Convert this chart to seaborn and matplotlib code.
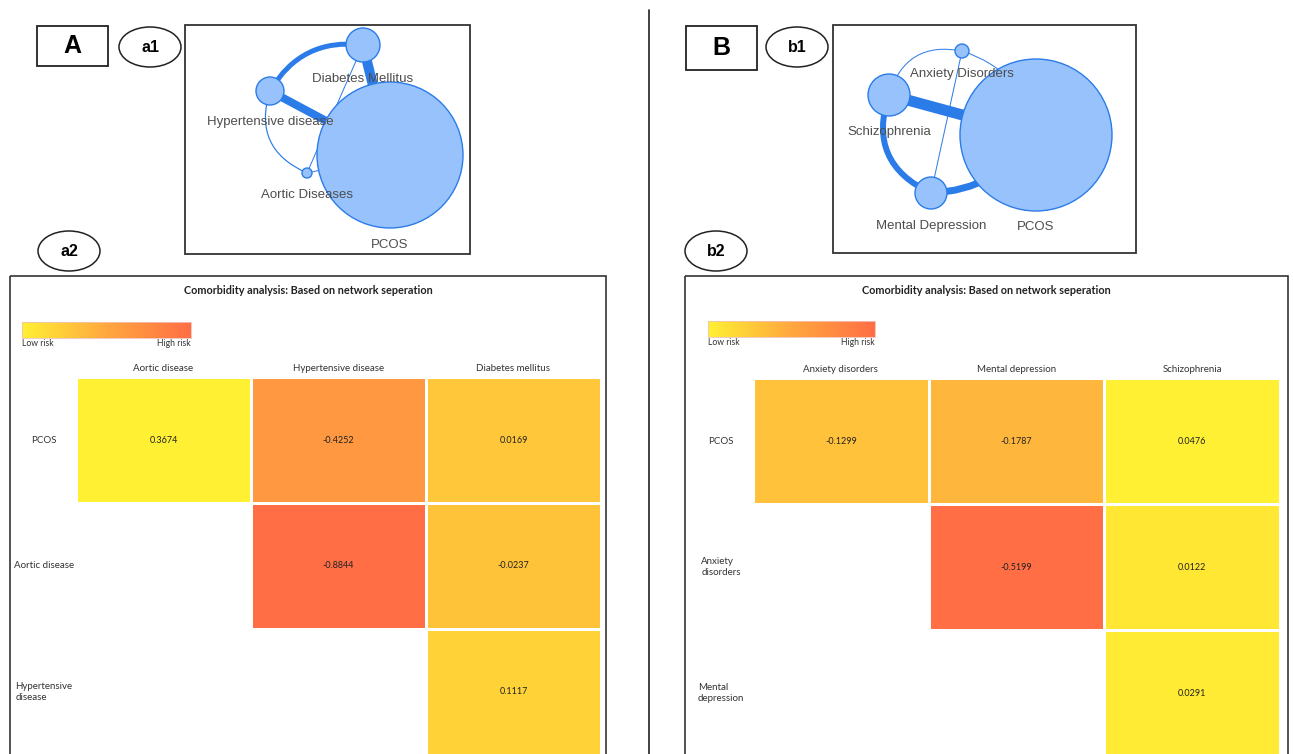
import numpy as np
import pandas as pd
import matplotlib
matplotlib.use("Agg")
import matplotlib.pyplot as plt
import matplotlib.patches as mpatches
from matplotlib.colors import LinearSegmentedColormap
import seaborn as sns

sns.set_theme(style="white")
plt.rcParams['font.family'] = ['Liberation Sans', 'DejaVu Sans']

# --------------------------- data ---------------------------
# network a1 (PCOS vs cardiovascular / metabolic)
a1_nodes = ["PCOS", "Diabetes Mellitus", "Hypertensive disease", "Aortic Diseases"]
a1_edges = [("Diabetes Mellitus", "Hypertensive disease"),
            ("Diabetes Mellitus", "PCOS"),
            ("Hypertensive disease", "PCOS"),
            ("Diabetes Mellitus", "Aortic Diseases"),
            ("Hypertensive disease", "Aortic Diseases"),
            ("Aortic Diseases", "PCOS")]
a1_edge_weight = [5, 10, 8, 1, 1.2, 1]

# network b1 (PCOS vs psychiatric)
b1_nodes = ["PCOS", "Schizophrenia", "Mental Depression", "Anxiety Disorders"]
b1_edges = [("Schizophrenia", "PCOS"),
            ("Schizophrenia", "Mental Depression"),
            ("Mental Depression", "PCOS"),
            ("Anxiety Disorders", "Schizophrenia"),
            ("Anxiety Disorders", "PCOS"),
            ("Anxiety Disorders", "Mental Depression")]
b1_edge_weight = [11, 6, 7, 1, 1, 1]

# heatmap a2
a2_rows = ["PCOS", "Aortic disease", "Hypertensive\ndisease"]
a2_cols = ["Aortic disease", "Hypertensive disease", "Diabetes mellitus"]
a2_values = [[0.3674, -0.4252, 0.0169],
             [np.nan, -0.8844, -0.0237],
             [np.nan, np.nan, 0.1117]]

# heatmap b2
b2_rows = ["PCOS", "Anxiety\ndisorders", "Mental\ndepression"]
b2_cols = ["Anxiety disorders", "Mental depression", "Schizophrenia"]
b2_values = [[-0.1299, -0.1787, 0.0476],
             [np.nan, -0.5199, 0.0122],
             [np.nan, np.nan, 0.0291]]

# --------------------------- layout (pixels) ---------------------------
W, H = 1293, 754
a1_layout = {"PCOS": ((390, 155), 73), "Diabetes Mellitus": ((363, 45), 17),
             "Hypertensive disease": ((270, 91), 14), "Aortic Diseases": ((307, 173), 5)}
a1_rad = [0.33, 0, 0, 0, 0.45, 0]
b1_layout = {"PCOS": ((1036, 135), 76), "Schizophrenia": ((889, 95), 21),
             "Mental Depression": ((931, 193), 16), "Anxiety Disorders": ((962, 51), 7)}
b1_rad = [0, 0.45, 0.25, 0.45, -0.3, 0]

node_fill = '#97C2FC'
node_edge = '#2B7CE9'
edge_col = '#2B7CE9'
label_col = '#4d4d4d'
PX = 0.72  # points per pixel at 100 dpi

fig = plt.figure(figsize=(W / 100, H / 100), dpi=100)
bg = fig.add_axes([0, 0, 1, 1])
bg.set_xlim(0, W)
bg.set_ylim(H, 0)
bg.axis('off')


def px_axes(x0, y0, x1, y1):
    return fig.add_axes([x0 / W, 1 - y1 / H, (x1 - x0) / W, (y1 - y0) / H])


def draw_network(nodes, edges, weights, layout, rads):
    for (a, b), w, r in zip(edges, weights, rads):
        p = mpatches.FancyArrowPatch(layout[a][0], layout[b][0], arrowstyle='-',
                                     connectionstyle=f"arc3,rad={r}", lw=w * PX,
                                     color=edge_col, shrinkA=0, shrinkB=0, zorder=2)
        bg.add_patch(p)
    for n in nodes:
        (cx, cy), rr = layout[n]
        bg.add_patch(mpatches.Circle((cx, cy), rr, facecolor=node_fill,
                                     edgecolor=node_edge, lw=1, zorder=3))
        bg.text(cx, cy + rr + 16.5, n, ha='center', va='center', fontsize=9.5,
                color=label_col, zorder=5)


def tag_box(x0, y0, x1, y1, letter):
    bg.add_patch(mpatches.Rectangle((x0, y0), x1 - x0, y1 - y0, fill=False,
                                    edgecolor='#222222', lw=1.3))
    bg.text((x0 + x1) / 2, (y0 + y1) / 2, letter, ha='center', va='center',
            fontsize=18, fontweight='bold', color='black')


def tag_ellipse(cx, cy, label):
    bg.add_patch(mpatches.Ellipse((cx, cy), 62, 40, fill=False, edgecolor='#222222', lw=1.1))
    bg.text(cx, cy, label, ha='center', va='center', fontsize=11.5,
            fontweight='bold', color='black')


def frame(x0, y0, x1, y1, lw=1.3):
    bg.add_patch(mpatches.Rectangle((x0, y0), x1 - x0, y1 - y0, fill=False,
                                    edgecolor='#333333', lw=lw))


# --------------------------- top panels ---------------------------
tag_box(37, 26, 108, 66, "A")
tag_ellipse(150, 47, "a1")
tag_ellipse(69, 251, "a2")
frame(185, 25, 470, 254)
draw_network(a1_nodes, a1_edges, a1_edge_weight, a1_layout, a1_rad)

tag_box(686, 26, 757, 70, "B")
tag_ellipse(797, 47, "b1")
tag_ellipse(716, 251, "b2")
frame(833, 25, 1136, 253)
draw_network(b1_nodes, b1_edges, b1_edge_weight, b1_layout, b1_rad)

bg.plot([649, 649], [10, H], color='#333333', lw=1.3)

# --------------------------- heatmaps ---------------------------
risk_cmap = LinearSegmentedColormap.from_list("risk", ['#FF6E45', '#FFA73E', '#FFF033'])
hm_font = ['Lato', 'DejaVu Sans']


def draw_heat(frame_box, hm_box, cb_box, rows, cols, values):
    fx0, fy0, fx1, fy1 = frame_box
    frame(fx0, fy0, fx1, fy1 + 20, lw=1.2)
    bg.text((fx0 + fx1) / 2, fy0 + 15, "Comorbidity analysis: Based on network seperation",
            ha='center', va='center', fontsize=7.8, fontweight='bold', color='#222222',
            family=hm_font)
    df = pd.DataFrame(values, index=rows, columns=cols)
    ax = px_axes(*hm_box)
    cax = px_axes(*cb_box)
    sns.heatmap(df, ax=ax, cmap=risk_cmap, annot=True, fmt='.4f', linewidths=1.0,
                linecolor='white', cbar_ax=cax, cbar_kws={'orientation': 'horizontal'},
                annot_kws={'fontsize': 6.5, 'color': '#222222', 'family': hm_font})
    ax.xaxis.tick_top()
    ax.set_xlabel('')
    ax.set_ylabel('')
    ax.set_xticklabels(cols, rotation=0, fontsize=7, color='#333333', family=hm_font)
    ax.set_yticklabels(rows, rotation=0, ha='center', multialignment='left',
                       fontsize=7, color='#333333', family=hm_font)
    ax.tick_params(axis='x', length=0, pad=3)
    ax.tick_params(axis='y', length=0, pad=23)
    cax.invert_xaxis()
    cax.set_xticks([])
    cb = ax.collections[0].colorbar
    cb.outline.set_edgecolor('#f3c2b8')
    cb.outline.set_linewidth(0.6)
    cx0, cy0, cx1, cy1 = cb_box
    bg.text(cx0, cy1 + 5.5, "Low risk", ha='left', va='center', fontsize=6.2,
            color='#333333', family=hm_font)
    bg.text(cx1, cy1 + 5.5, "High risk", ha='right', va='center', fontsize=6.2,
            color='#333333', family=hm_font)


draw_heat((10, 276, 606, H), (76, 377, 601, 755), (22, 322, 191, 338),
          a2_rows, a2_cols, a2_values)
draw_heat((685, 276, 1288, H), (753, 378, 1280, 756), (708, 321, 875, 337),
          b2_rows, b2_cols, b2_values)

fig.savefig("out.png", dpi=100)
